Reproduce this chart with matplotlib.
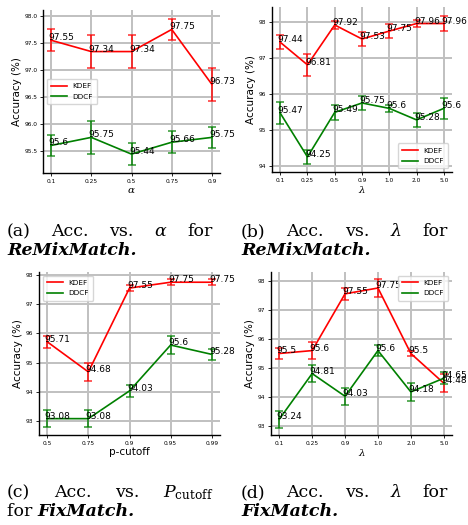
import matplotlib
matplotlib.use("Agg")
import matplotlib.pyplot as plt

plt.rcParams['mathtext.fontset'] = 'dejavuserif'

# (a) alpha, ReMixMatch
a_x = ['0.1', '0.25', '0.5', '0.75', '0.9']
a_kdef = [97.55, 97.34, 97.34, 97.75, 96.73]
a_kdef_err = [0.2, 0.3, 0.3, 0.2, 0.3]
a_ddcf = [95.6, 95.75, 95.44, 95.66, 95.75]
a_ddcf_err = [0.2, 0.3, 0.2, 0.2, 0.2]

# (b) lambda, ReMixMatch
b_x = ['0.1', '0.25', '0.5', '0.9', '1.0', '2.0', '5.0']
b_kdef = [97.44, 96.81, 97.92, 97.53, 97.75, 97.96, 97.96]
b_kdef_err = [0.2, 0.3, 0.1, 0.2, 0.2, 0.1, 0.2]
b_ddcf = [95.47, 94.25, 95.49, 95.75, 95.6, 95.28, 95.6]
b_ddcf_err = [0.3, 0.2, 0.2, 0.2, 0.1, 0.2, 0.3]

# (c) p-cutoff, FixMatch
c_x = ['0.5', '0.75', '0.9', '0.95', '0.99']
c_kdef = [95.71, 94.68, 97.55, 97.75, 97.75]
c_kdef_err = [0.2, 0.3, 0.1, 0.1, 0.1]
c_ddcf = [93.08, 93.08, 94.03, 95.6, 95.28]
c_ddcf_err = [0.3, 0.3, 0.2, 0.3, 0.2]

# (d) lambda, FixMatch
d_x = ['0.1', '0.25', '0.9', '1.0', '2.0', '5.0']
d_kdef = [95.5, 95.6, 97.55, 97.75, 95.5, 94.48]
d_kdef_err = [0.2, 0.3, 0.2, 0.3, 0.1, 0.3]
d_ddcf = [93.24, 94.81, 94.03, 95.6, 94.18, 94.65]
d_ddcf_err = [0.3, 0.3, 0.3, 0.2, 0.3, 0.2]

W, H = 468, 525
fig = plt.figure(figsize=(W / 100, H / 100), dpi=100)


def panel(rect, xt, kdef, kerr, ddcf, derr, xlabel, ylim, yticks, yfmt, legloc):
    ax = fig.add_axes([rect[0] / W, 1 - rect[3] / H, (rect[2] - rect[0]) / W, (rect[3] - rect[1]) / H])
    x = list(range(len(xt)))
    for vals, errs, col, lab in [(kdef, kerr, 'red', 'KDEF'), (ddcf, derr, 'green', 'DDCF')]:
        ax.plot(x, vals, color=col, lw=1.2, label=lab, zorder=3)
        ax.errorbar(x, vals, yerr=errs, fmt='none', ecolor=col, alpha=0.75,
                    elinewidth=1.4, capsize=3, capthick=1.2, zorder=3)
        for i, v in zip(x, vals):
            ax.annotate(str(v), (i, v), xytext=(-2.5, 0), textcoords='offset pixels',
                        fontsize=6.5, ha='left', va='baseline', zorder=4)
    ax.set_xticks(x)
    ax.set_xticklabels(xt)
    ax.set_yticks(yticks)
    ax.set_yticklabels([yfmt % t for t in yticks])
    ax.set_ylim(ylim)
    ax.tick_params(labelsize=4.2, length=2, width=0.6, pad=2)
    ax.grid(True, color='#c0c0c0', lw=1.4)
    ax.set_axisbelow(True)
    for s in ['top', 'right']:
        ax.spines[s].set_visible(False)
    ax.spines['left'].set_linewidth(1.0)
    ax.spines['bottom'].set_linewidth(1.0)
    ax.set_ylabel('Accuracy (%)', fontsize=7.5, labelpad=2)
    ax.set_xlabel(xlabel, fontsize=7.5, labelpad=1)
    ax.legend(loc=legloc, fontsize=5.2, handlelength=2.2, borderpad=0.6, labelspacing=0.6)
    return ax


panel((43, 10, 220, 173), a_x, a_kdef, a_kdef_err, a_ddcf, a_ddcf_err, r'$\alpha$',
      (95.09, 98.11), [95.5, 96.0, 96.5, 97.0, 97.5, 98.0], '%.1f', 'center left')
panel((272, 7, 452, 172), b_x, b_kdef, b_kdef_err, b_ddcf, b_ddcf_err, r'$\lambda$',
      (93.83, 98.42), [94, 95, 96, 97, 98], '%d', 'lower right')
panel((39, 272, 220, 435), c_x, c_kdef, c_kdef_err, c_ddcf, c_ddcf_err, 'p-cutoff',
      (92.52, 98.1), [93, 94, 95, 96, 97, 98], '%d', 'upper left')
panel((271, 272, 452, 435), d_x, d_kdef, d_kdef_err, d_ddcf, d_ddcf_err, r'$\lambda$',
      (92.7, 98.3), [93, 94, 95, 96, 97, 98], '%d', 'upper right')

# captions (justified first line, like the paper's two-column text)
cap = dict(family='DejaVu Serif', fontsize=12.5, va='baseline')
bi = dict(cap, fontweight='bold', fontstyle='italic')


def justify(words, x0, x1, ypx):
    ts = [fig.text(x0 / W, 1 - ypx / H, w, **cap) for w in words]
    fig.canvas.draw()
    r = fig.canvas.get_renderer()
    ws = [t.get_window_extent(r).width for t in ts]
    gap = (x1 - x0 - sum(ws)) / (len(ws) - 1)
    x = x0
    for t, w in zip(ts, ws):
        t.set_x(x / W)
        x += w + gap


justify(['(a)', 'Acc.', 'vs.', r'$\alpha$', 'for'], 7, 213, 236)
justify(['(b)', 'Acc.', 'vs.', r'$\lambda$', 'for'], 241, 448, 236)
justify(['(c)', 'Acc.', 'vs.', r'$P_{\mathrm{cutoff}}$'], 7, 214, 497)
justify(['(d)', 'Acc.', 'vs.', r'$\lambda$', 'for'], 241, 448, 497)

fig.text(7 / W, 1 - 255 / H, 'ReMixMatch.', **bi)
fig.text(241 / W, 1 - 255 / H, 'ReMixMatch.', **bi)
t = fig.text(7 / W, 1 - 516 / H, 'for ', **cap)
fig.canvas.draw()
fig.text(t.get_window_extent().x1 / W, 1 - 516 / H, 'FixMatch.', **bi)
fig.text(241 / W, 1 - 516 / H, 'FixMatch.', **bi)

fig.savefig('out.png', dpi=100)
